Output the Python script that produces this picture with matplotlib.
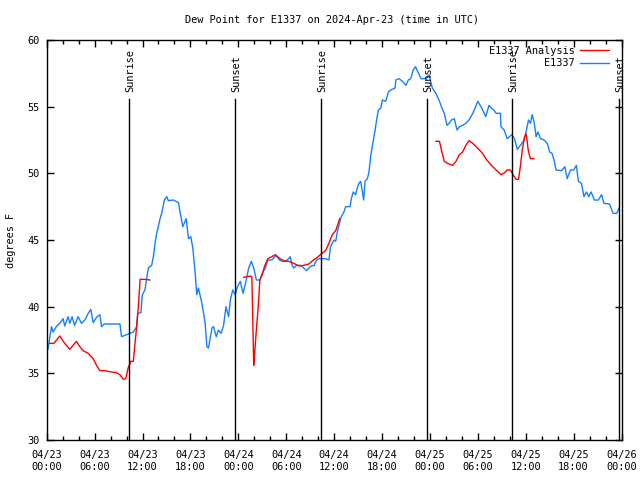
"""
Dew point time series for a single station (obs vs analysis) with sunrise/sunset markers
"""

#---------------------------------------------------------------------------------------------------
# Import Modules
#---------------------------------------------------------------------------------------------------

import matplotlib
matplotlib.use('Agg')
import matplotlib.pyplot as plt
import numpy as np


#---------------------------------------------------------------------------------------------------
# Input Parameters
#---------------------------------------------------------------------------------------------------

# Observed dew point (hours since 2024-04-23 00 UTC, deg F)
obs_hr = [0.16, 0.6, 0.8, 1.2, 1.63, 2.05, 2.26, 2.68, 2.9, 3.18, 3.5, 3.94, 4.35, 4.78, 5.2, 5.53,
          5.82, 6.24, 6.66, 6.87, 7.2, 9.17, 9.38, 10.0, 10.85, 11.27, 11.4, 11.8, 11.98, 12.3, 12.73,
          13.15, 13.36, 13.57, 13.78, 14.2, 14.4, 14.74, 15.04, 15.25, 15.87, 16.5, 16.7, 17.05, 17.47,
          17.76, 18.05, 18.3, 18.6, 18.8, 19.0, 19.44, 19.85, 20.06, 20.27, 20.7, 20.9, 21.24, 21.53,
          21.83, 22.16, 22.45, 22.78, 23.0, 23.3, 23.6, 23.9, 24.25, 24.6, 24.9, 25.3, 25.63, 25.93,
          26.26, 26.7, 27.0, 27.4, 27.7, 28.2, 28.65, 28.86, 29.15, 29.5, 30.0, 30.5, 30.75, 30.95,
          31.3, 31.8, 32.2, 32.55, 32.84, 33.26, 33.46, 33.8, 34.1, 34.93, 35.35, 35.56, 35.98, 36.2,
          36.4, 36.73, 36.9, 37.23, 37.45, 38.0, 38.16, 38.4, 38.7, 38.9, 39.1, 39.33, 39.55, 39.7,
          39.87, 40.17, 40.37, 40.6, 40.8, 41.1, 41.35, 41.55, 41.85, 42.05, 42.47, 42.8, 43.1, 43.64,
          43.73, 44.15, 44.57, 45.0, 45.3, 45.6, 45.9, 46.2, 46.5, 46.9, 47.5, 47.9, 48.3, 48.75, 49.2,
          49.5, 49.8, 50.14, 50.4, 50.7, 51.05, 51.4, 51.7, 52.1, 52.5, 52.9, 53.37, 53.66, 54.0, 54.4,
          54.8, 55.0, 55.4, 55.7, 56.0, 56.3, 56.84, 56.9, 57.3, 57.68, 57.97, 58.27, 58.6, 58.95,
          59.35, 59.8, 60.1, 60.35, 60.6, 60.8, 61.03, 61.2, 61.3, 61.53, 61.86, 62.3, 62.7, 63.0,
          63.3, 63.55, 63.8, 64.5, 64.9, 65.2, 65.6, 66.0, 66.35, 66.6, 66.98, 67.3, 67.6, 67.9, 68.2,
          68.6, 69.1, 69.5, 69.8, 70.5, 70.95, 71.4, 71.7]
obs_td = [36.8, 38.5, 38.1, 38.5, 38.75, 39.1, 38.55, 39.25, 38.75, 39.25, 38.6, 39.25, 38.75, 39.0,
          39.5, 39.8, 38.8, 39.2, 39.4, 38.5, 38.7, 38.7, 37.75, 37.9, 38.1, 38.5, 39.5, 39.55, 40.9,
          41.25, 42.9, 43.1, 43.75, 44.75, 45.5, 46.6, 47.0, 48.0, 48.25, 47.95, 48.0, 47.8, 47.1,
          46.0, 46.6, 45.1, 45.25, 44.4, 42.5, 40.9, 41.4, 40.25, 38.75, 37.0, 36.9, 38.4, 38.5, 37.75,
          38.25, 38.0, 38.6, 40.0, 39.25, 40.5, 41.25, 40.9, 41.5, 41.9, 41.0, 41.75, 42.9, 43.4, 42.9,
          42.0, 42.0, 42.5, 42.9, 43.5, 43.5, 43.8, 43.75, 43.5, 43.4, 43.4, 43.75, 43.1, 42.9, 43.1,
          43.1, 42.9, 42.7, 42.9, 43.1, 43.05, 43.5, 43.6, 43.6, 43.5, 44.5, 45.0, 44.9, 45.6, 46.4,
          46.75, 47.1, 47.5, 47.5, 48.1, 48.6, 48.4, 48.9, 49.25, 49.4, 48.6, 48.0, 49.4, 49.6, 50.1,
          51.4, 52.1, 53.1, 54.1, 54.75, 54.9, 55.5, 55.4, 56.1, 56.25, 56.4, 57.0, 57.1, 56.9, 56.6,
          57.0, 57.1, 57.75, 58.0, 57.6, 57.1, 57.1, 57.4, 56.4, 56.0, 55.4, 54.9, 54.5, 53.6, 53.75,
          54.0, 54.1, 53.25, 53.5, 53.6, 53.75, 54.0, 54.5, 54.9, 55.4, 55.0, 54.5, 54.25, 55.1, 54.9,
          54.75, 54.5, 54.5, 53.5, 53.25, 52.6, 52.75, 52.9, 52.6, 51.8, 52.1, 52.5, 53.25, 54.0,
          53.75, 54.4, 53.9, 53.25, 52.75, 53.1, 52.6, 52.5, 52.25, 51.6, 51.5, 51.0, 50.25, 50.2,
          50.5, 49.6, 50.25, 50.25, 50.6, 49.4, 49.25, 48.25, 48.6, 48.25, 48.6, 48.0, 48.0, 48.4,
          47.75, 47.7, 47.0, 47.0, 47.4]

# Analysis dew point (NaN marks gaps between analysis periods)
anl_hr = [0.38, 0.9, 1.63, 2.26, 2.9, 3.3, 3.73, 4.15, 4.56, 5.2, 5.82, 6.24, 6.66, 7.3, 8.1, 8.75,
          9.17, 9.6, 9.9, 10.2, 10.55, 10.85, 11.06, 11.27, 11.48, 11.7, 12.3, 12.94, 18.0,
          24.67, 25.5, 25.7, 25.85, 25.93, 26.05, 26.26, 26.43, 26.55, 26.7, 27.0, 27.27, 27.7, 28.2,
          28.65, 29.2, 29.7, 30.3, 30.95, 31.6, 32.2, 32.84, 33.4, 33.9, 34.5, 34.93, 35.35, 35.77,
          36.2, 36.6, 36.7, 42.0,
          48.75, 49.2, 49.5, 49.8, 50.2, 50.85, 51.27, 51.7, 52.1, 52.5, 52.9, 53.37, 53.8, 54.2,
          54.6, 55.0, 55.7, 56.3, 56.9, 57.26, 57.68, 58.1, 58.4, 58.8, 59.1, 59.35, 59.57, 59.86,
          60.07, 60.35, 60.6, 61.03]
anl_td = [37.25, 37.25, 37.8, 37.25, 36.8, 37.1, 37.4, 37.0, 36.7, 36.5, 36.1, 35.6, 35.2, 35.2,
          35.1, 35.05, 34.9, 34.55, 34.6, 35.4, 35.9, 35.9, 37.25, 38.5, 40.0, 42.05, 42.05, 42.0,
          np.nan,
          42.2, 42.3, 42.25, 38.0, 35.6, 36.5, 38.25, 39.5, 40.5, 42.0, 42.4, 43.0, 43.6, 43.75,
          43.9, 43.6, 43.45, 43.4, 43.25, 43.05, 43.1, 43.2, 43.5, 43.7, 44.0, 44.2, 44.75, 45.4,
          45.7, 46.4, 46.6, np.nan,
          52.4, 52.4, 51.6, 50.9, 50.75, 50.6, 50.9, 51.4, 51.6, 52.1, 52.45, 52.25, 52.0, 51.75,
          51.5, 51.1, 50.6, 50.25, 49.9, 50.0, 50.25, 50.25, 49.9, 49.55, 49.55, 50.6, 51.75, 52.75,
          52.95, 51.6, 51.1, 51.1]

# Sunrise / sunset times (hours since 2024-04-23 00 UTC)
sun_hr = [10.35, 23.63, 34.32, 47.68, 58.33, 71.72]
sun_lbl = ['Sunrise', 'Sunset', 'Sunrise', 'Sunset', 'Sunrise', 'Sunset']

# Axis ticks
xtick_hr = [0, 6, 12, 18, 24, 30, 36, 42, 48, 54, 60, 66, 72]
xtick_lbl = ['04/23\n00:00', '04/23\n06:00', '04/23\n12:00', '04/23\n18:00',
             '04/24\n00:00', '04/24\n06:00', '04/24\n12:00', '04/24\n18:00',
             '04/25\n00:00', '04/25\n06:00', '04/25\n12:00', '04/25\n18:00',
             '04/26\n00:00']

fs = 7.4
save_fname = 'out.png'


#---------------------------------------------------------------------------------------------------
# Plot Data
#---------------------------------------------------------------------------------------------------

plt.rcParams['font.family'] = ['DejaVu Sans Mono']

fig = plt.figure(figsize=(6.4, 4.8), dpi=100)
ax = fig.add_axes([46.7/640, 40/480, 574.8/640, 400/480])

l_anl, = ax.plot(anl_hr, anl_td, c='#ff0000', lw=1.0, label='E1337 Analysis')
l_obs, = ax.plot(obs_hr, obs_td, c='#1580ff', lw=1.0, label='E1337')
# red drawn on top where the two overlap
l_anl.set_zorder(3)

for t, lbl in zip(sun_hr, sun_lbl):
    ax.plot([t, t], [30, 55.57], 'k-', lw=1.0, zorder=4)
    ax.text(t + 0.15, 56.1, lbl, rotation=90, ha='center', va='bottom', fontsize=fs)

ax.set_xlim(0, 72)
ax.set_ylim(30, 60)
ax.set_xticks(xtick_hr, labels=xtick_lbl)
ax.set_xticks(np.arange(0, 73, 2), minor=True)
ax.set_yticks([30, 35, 40, 45, 50, 55, 60])
ax.tick_params(which='both', direction='in', top=True, right=True, labelsize=fs, width=1)
ax.tick_params(which='major', length=5)
ax.tick_params(which='minor', length=3)
ax.tick_params(axis='x', pad=7)
ax.tick_params(axis='y', pad=5)
for lab in ax.get_xticklabels():
    lab.set_linespacing(1.3)
for sp in ax.spines.values():
    sp.set_linewidth(1.0)

ax.set_ylabel('degrees F', fontsize=fs)
ax.yaxis.set_label_coords(-0.054, 0.5)

ax.legend(handles=[l_anl, l_obs], loc='upper right', bbox_to_anchor=(0.984, 0.993),
          frameon=False, markerfirst=False, fontsize=fs, handlelength=2.8,
          handletextpad=0.6, labelspacing=0.25, borderaxespad=0.0, borderpad=0.3)

fig.text(332/640, 1 - 20/480, 'Dew Point for E1337 on 2024-Apr-23 (time in UTC)',
         ha='center', va='center', fontsize=fs)

plt.savefig(save_fname, dpi=100)
plt.close()
